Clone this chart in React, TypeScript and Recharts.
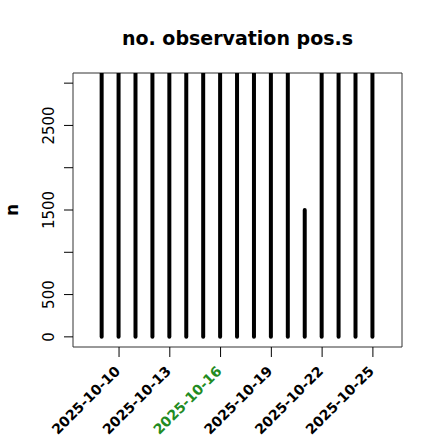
import React from "react";
import {
  BarChart,
  Bar,
  XAxis,
  YAxis,
  ReferenceArea,
} from "recharts";

const dates = [
  "2025-10-09", "2025-10-10", "2025-10-11", "2025-10-12", "2025-10-13",
  "2025-10-14", "2025-10-15", "2025-10-16", "2025-10-17", "2025-10-18",
  "2025-10-19", "2025-10-20", "2025-10-21", "2025-10-22", "2025-10-23",
  "2025-10-24", "2025-10-25",
];
const counts = [
  3120, 3120, 3120, 3120, 3120, 3120, 3120, 3120, 3120, 3120,
  3120, 3120, 1500, 3120, 3120, 3120, 3120,
];
const xTicks = ["2025-10-10", "2025-10-13", "2025-10-16", "2025-10-19", "2025-10-22", "2025-10-25"];
const highlighted = "2025-10-16";
const yTicks = [0, 500, 1000, 1500, 2000, 2500, 3000];
const yLabelled = [0, 500, 1500, 2500];

const dayOf = (d: string) => parseInt(d.slice(8), 10);
const data = dates.map((d, i) => ({ day: dayOf(d), n: counts[i] }));

const FONT = "'DejaVu Sans', sans-serif";
const X_DOMAIN: [number, number] = [7.28, 26.72];
const Y_DOMAIN: [number, number] = [-120, 3120];

function Stick(props: any) {
  const { x, y, width, height } = props;
  const cx = x + width / 2;
  return (
    <line
      x1={cx}
      x2={cx}
      y1={y}
      y2={y + height}
      stroke="#000"
      strokeWidth={4}
      strokeLinecap="round"
    />
  );
}

function XTick(props: any) {
  const { x, y, payload } = props;
  const label = `2025-10-${String(payload.value).padStart(2, "0")}`;
  const ex = x + 2;
  const ey = y + 13;
  return (
    <text
      x={ex}
      y={ey}
      transform={`rotate(-45 ${ex} ${ey})`}
      textAnchor="end"
      fontFamily={FONT}
      fontWeight="bold"
      fontSize={14}
      fill={label === highlighted ? "#228B22" : "#000"}
    >
      {label}
    </text>
  );
}

function YTick(props: any) {
  const { y, payload } = props;
  if (!yLabelled.includes(payload.value)) return null;
  const bx = 54;
  return (
    <text
      x={bx}
      y={y}
      transform={`rotate(-90 ${bx} ${y})`}
      textAnchor="middle"
      fontFamily={FONT}
      fontSize={15}
      fill="#000"
    >
      {payload.value}
    </text>
  );
}

function YLabel() {
  return (
    <text
      x={18}
      y={210}
      transform="rotate(-90 18 210)"
      textAnchor="middle"
      fontFamily={FONT}
      fontWeight="bold"
      fontSize={17}
      fill="#000"
    >
      n
    </text>
  );
}

export default function App() {
  return (
    <div style={{ position: "absolute", left: 0, top: 0, width: 440, height: 440, background: "#fff" }}>
      <div
        style={{
          position: "absolute",
          left: 0,
          width: 475,
          top: 27,
          textAlign: "center",
          fontFamily: FONT,
          fontWeight: "bold",
          fontSize: 19,
          lineHeight: "22px",
          color: "#000",
        }}
      >
        no. observation pos.s
      </div>
      <BarChart
        width={440}
        height={440}
        data={data}
        margin={{ top: 73, right: 38, bottom: 0, left: 0 }}
      >
        <XAxis
          dataKey="day"
          type="number"
          domain={X_DOMAIN}
          ticks={xTicks.map(dayOf)}
          allowDataOverflow
          axisLine={false}
          tickLine={{ stroke: "#000" }}
          tickSize={10}
          height={93}
          tick={<XTick />}
          interval={0}
        />
        <YAxis
          type="number"
          domain={Y_DOMAIN}
          ticks={yTicks}
          allowDataOverflow
          axisLine={false}
          tickLine={{ stroke: "#000" }}
          tickSize={9}
          width={73}
          tick={<YTick />}
          interval={0}
          label={<YLabel />}
        />
        <Bar dataKey="n" barSize={4} shape={<Stick />} isAnimationActive={false} />
        <ReferenceArea
          x1={X_DOMAIN[0]}
          x2={X_DOMAIN[1]}
          y1={Y_DOMAIN[0]}
          y2={Y_DOMAIN[1]}
          fill="none"
          stroke="#333"
          strokeWidth={1}
          ifOverflow="visible"
        />
      </BarChart>
    </div>
  );
}
